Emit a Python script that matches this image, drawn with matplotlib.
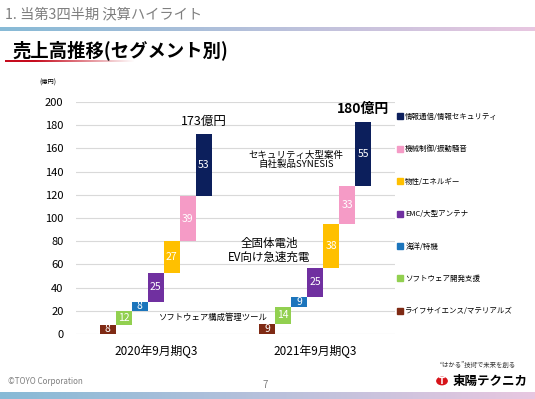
import numpy as np
import matplotlib
matplotlib.use('Agg')
import matplotlib.pyplot as plt
from matplotlib.lines import Line2D
from matplotlib.patches import Circle

plt.rcParams['font.family'] = ['Noto Sans CJK JP', 'DejaVu Sans']

# segments, bottom to top
segments = ['ライフサイエンス/マテリアルズ', 'ソフトウェア開発支援', '海洋/特機',
            'EMC/大型アンテナ', '物性/エネルギー', '機械制御/振動騒音',
            '情報通信/情報セキュリティ']
colors = ['#7F2A14', '#92D050', '#1C75BC', '#7030A0', '#FFC000', '#F59BC6', '#0C1F5C']
sales_2020 = [8, 12, 8, 25, 27, 39, 53]
sales_2021 = [9, 14, 9, 25, 38, 33, 55]
periods = ['2020年9月期Q3', '2021年9月期Q3']
totals = ['173億円', '180億円']

fig = plt.figure(figsize=(5.35, 3.99), dpi=100)
ax = fig.add_axes([76/535, 65/399, 319/535, 232/399])

group_start = [0, 10]
for g, vals in enumerate([sales_2020, sales_2021]):
    xs = group_start[g] + np.arange(len(vals))
    bottoms = np.concatenate([[0], np.cumsum(vals)[:-1]])
    ax.bar(xs, vals, bottom=bottoms, width=1.0, color=colors, edgecolor='none', zorder=3)
    for x, b, v in zip(xs, bottoms, vals):
        ax.text(x, b + v / 2, str(v), ha='center', va='center', color='white',
                fontsize=7.5, zorder=4)

# totals above last bar
top1 = sum(sales_2020)
top2 = sum(sales_2021)
ax.text(group_start[0] + 6, top1 + 11, totals[0], ha='center', va='center', fontsize=9)
ax.text(group_start[1] + 6, top2 + 11, totals[1], ha='center', va='center', fontsize=10,
        fontweight='bold')

# notes
ax.text(11.8, 150, 'セキュリティ大型案件\n自社製品SYNESIS', ha='center', va='center',
        fontsize=6.8, linespacing=1.0)
ax.text(10.1, 72, '全固体電池\nEV向け急速充電', ha='center', va='center',
        fontsize=8.3, linespacing=1.0)
ax.text(6.6, 14.5, 'ソフトウェア構成管理ツール', ha='center', va='center', fontsize=6)

ax.set_xlim(-2, 18)
ax.set_ylim(0, 200)
ax.set_yticks(np.arange(0, 201, 20))
ax.set_xticks([3, 13])
ax.set_xticklabels(periods, fontsize=8.5)
ax.tick_params(axis='y', labelsize=8, length=0, pad=9)
ax.tick_params(axis='x', length=0, pad=8)
ax.grid(axis='y', color='#D9D9D9', linewidth=0.8, zorder=0)
for s in ax.spines.values():
    s.set_visible(False)
fig.text(48/535, 1 - 83/399, '(億円)', fontsize=4.5, ha='center', va='center')

# legend (top to bottom: reverse order)
handles = [Line2D([], [], marker='s', linestyle='none', markersize=3.8, color=c)
           for c in colors[::-1]]
ax.legend(handles, segments[::-1], loc='upper left', bbox_to_anchor=(397/535, 1 - 113/399),
          bbox_transform=fig.transFigure, frameon=False, fontsize=5.4, labelspacing=3.25,
          handlelength=0.7, handletextpad=0.4, borderpad=0, borderaxespad=0)

# slide decoration
fig.text(5/535, 1 - 14/399, '1. 当第3四半期 決算ハイライト', fontsize=10.3, color='#7F7F7F',
         va='center')
grad = np.linspace(0, 1, 256)
c1 = np.array([0.53, 0.73, 0.84])
c2 = np.array([0.91, 0.78, 0.88])
bar_img = (c1[None, :] * (1 - grad[:, None]) + c2[None, :] * grad[:, None])[None, :, :]
top_ax = fig.add_axes([0, 1 - 31/399, 1, 4/399])
top_ax.imshow(bar_img, aspect='auto')
top_ax.axis('off')
bot_ax = fig.add_axes([0, 0, 1, 7/399])
bot_ax.imshow(bar_img, aspect='auto')
bot_ax.axis('off')

fig.text(12/535, 1 - 50/399, '売上高推移(セグメント別)', fontsize=13.2, fontweight='bold',
         va='center')
red = np.zeros((1, 256, 4))
red[0, :, 0] = 0.78
red[0, :, 1] = 0.05
red[0, :, 2] = 0.12
red[0, :, 3] = np.clip(1.3 - grad * 1.3, 0, 1)
ul_ax = fig.add_axes([5/535, 1 - 62/399, 130/535, 2.5/399])
ul_ax.imshow(red, aspect='auto')
ul_ax.axis('off')

fig.text(8/535, 1 - 381/399, '©TOYO Corporation', fontsize=5.8, color='#7F7F7F', va='center')
fig.text(265/535, 1 - 385/399, '7', fontsize=7, color='#7F7F7F', ha='center', va='center')
fig.text(478/535, 1 - 365/399, '“はかる”技術で未来を創る', fontsize=4.6, color='#333333',
         ha='center', va='center')
fig.text(453/535, 1 - 381/399, '東陽テクニカ', fontsize=9, fontweight='bold', va='center')
fig.patches.append(Circle((442/535, 1 - 381/399), 0.011, transform=fig.transFigure,
                          facecolor='#D7141A', edgecolor='none'))
fig.text(442/535, 1 - 381/399, 'T', fontsize=6, fontweight='bold', color='white',
         ha='center', va='center', family='DejaVu Sans')

fig.savefig('out.png', dpi=100)
